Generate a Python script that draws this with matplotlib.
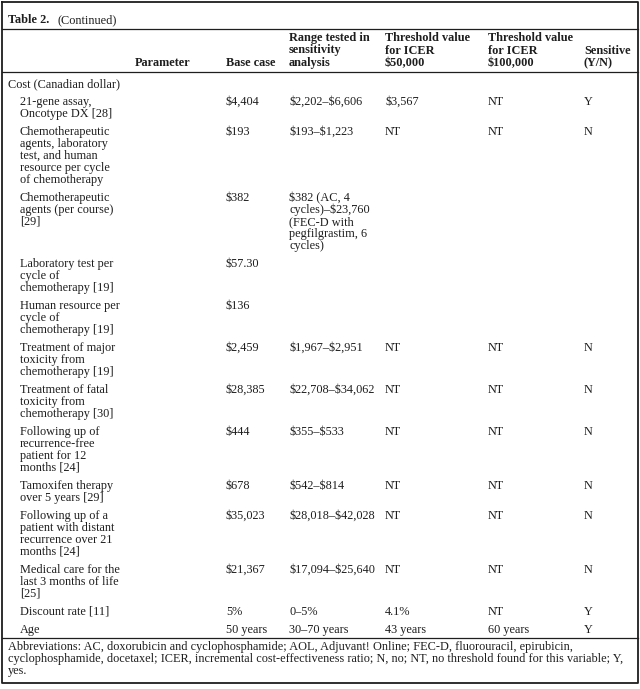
import matplotlib.pyplot as plt

# table contents, line breaks as in the printed table
headers = ["Parameter", "Base case", "Range tested in\nsensitivity\nanalysis",
           "Threshold value\nfor ICER\n$50,000", "Threshold value\nfor ICER\n$100,000",
           "Sensitive\n(Y/N)"]

group_label = "Cost (Canadian dollar)"

params = [
    "21-gene assay,\nOncotype DX [28]",
    "Chemotherapeutic\nagents, laboratory\ntest, and human\nresource per cycle\nof chemotherapy",
    "Chemotherapeutic\nagents (per course)\n[29]",
    "Laboratory test per\ncycle of\nchemotherapy [19]",
    "Human resource per\ncycle of\nchemotherapy [19]",
    "Treatment of major\ntoxicity from\nchemotherapy [19]",
    "Treatment of fatal\ntoxicity from\nchemotherapy [30]",
    "Following up of\nrecurrence-free\npatient for 12\nmonths [24]",
    "Tamoxifen therapy\nover 5 years [29]",
    "Following up of a\npatient with distant\nrecurrence over 21\nmonths [24]",
    "Medical care for the\nlast 3 months of life\n[25]",
    "Discount rate [11]",
    "Age",
]
base_case = ["$4,404", "$193", "$382", "$57.30", "$136", "$2,459", "$28,385",
             "$444", "$678", "$35,023", "$21,367", "5%", "50 years"]
range_tested = ["$2,202–$6,606", "$193–$1,223",
                "$382 (AC, 4\ncycles)–$23,760\n(FEC-D with\npegfilgrastim, 6\ncycles)",
                "", "", "$1,967–$2,951", "$22,708–$34,062", "$355–$533",
                "$542–$814", "$28,018–$42,028", "$17,094–$25,640", "0–5%",
                "30–70 years"]
thresh_50k = ["$3,567", "NT", "", "", "", "NT", "NT", "NT", "NT", "NT", "NT",
              "4.1%", "43 years"]
thresh_100k = ["NT", "NT", "", "", "", "NT", "NT", "NT", "NT", "NT", "NT",
               "NT", "60 years"]
sensitive = ["Y", "N", "", "", "", "N", "N", "N", "N", "N", "N", "Y", "Y"]

footnote = ("Abbreviations: AC, doxorubicin and cyclophosphamide; AOL, Adjuvant! Online; FEC-D, fluorouracil, epirubicin,\n"
            "cyclophosphamide, docetaxel; ICER, incremental cost-effectiveness ratio; N, no; NT, no threshold found for this variable; Y,\n"
            "yes.")

plt.rcParams['font.family'] = ['Liberation Serif', 'DejaVu Serif']
ink = '#1e1e1e'
fs = 8.8

fig = plt.figure(figsize=(6.4, 6.89), dpi=100)
ax = fig.add_axes([0, 0, 1, 1])
ax.set_xlim(0, 640)
ax.set_ylim(689, 0)
ax.axis('off')

def put(x, y, s, bold=False):
    ax.text(x, y, s, fontsize=fs, color=ink, ha='left', va='baseline',
            fontweight='bold' if bold else 'normal', parse_math=False)

def put_lines(x, y0, s, step, bold=False):
    for i, line in enumerate(s.split("\n")):
        put(x, y0 + i * step, line, bold)

# outer frame and rules
ax.plot([1.5, 638, 638, 1.5, 1.5], [1.5, 1.5, 683, 683, 1.5], color=ink, lw=1.3)
for yy in [29, 72, 638]:
    ax.plot([1.5, 638], [yy, yy], color=ink, lw=0.9)

# title
put(8, 23, "Table 2.", bold=True)
put(58, 23, "(Continued)")

# header, bottom aligned
col_x = [135, 226, 289, 385, 488, 584]
hstep = 12.5
h_last = 66
for x, h in zip(col_x, headers):
    n = h.count("\n")
    put_lines(x, h_last - n * hstep, h, hstep, bold=True)

# body
step = 12.0
gap = 6.0
y = 87
put(8, y, group_label)
columns = [params, base_case, range_tested, thresh_50k, thresh_100k, sensitive]
body_x = [20] + col_x[1:]
for r in range(len(params)):
    y += step + gap
    nlines = max(c[r].count("\n") + 1 for c in columns)
    for x, c in zip(body_x, columns):
        if c[r]:
            put_lines(x, y, c[r], step)
    y += (nlines - 1) * step

# footnote
put_lines(8, 650, footnote, 12)

fig.savefig("out.png", dpi=100)
